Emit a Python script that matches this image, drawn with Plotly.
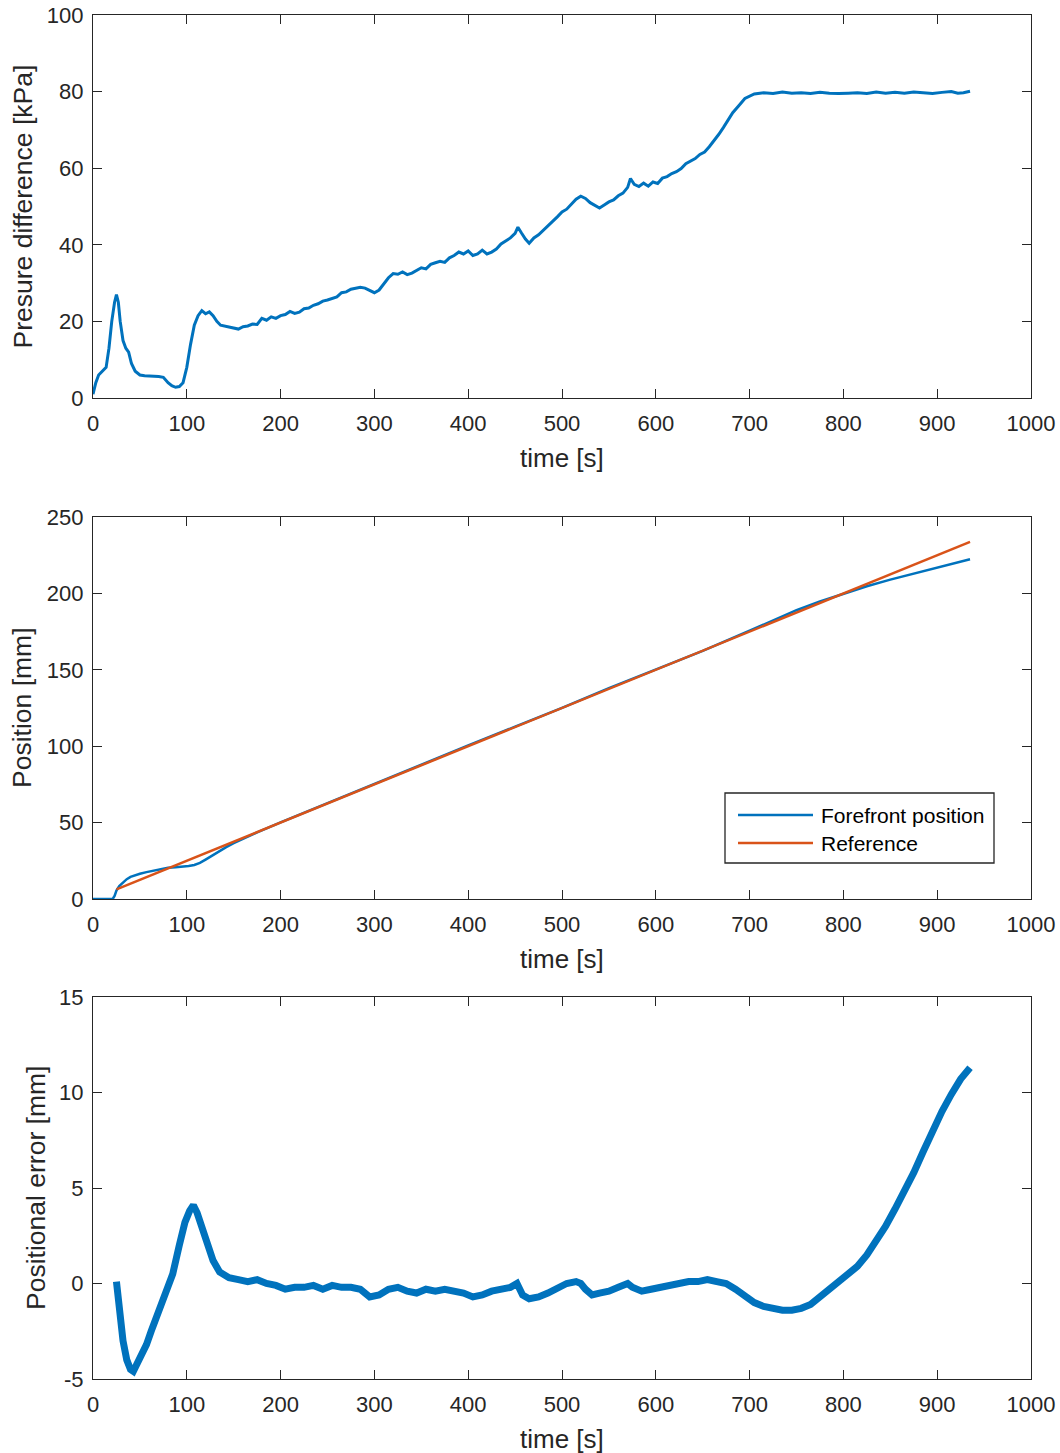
import plotly.graph_objects as go
from plotly.subplots import make_subplots

# ---------------- data ----------------
p_time = [0, 3, 6, 10, 14, 17, 20, 23, 25, 27, 29, 32, 35, 38, 41, 45, 50, 55, 60, 65, 70, 75,
          80, 84, 88, 92, 96, 100, 104, 108, 112, 116, 120, 124, 128, 132, 136, 140, 145, 150,
          155, 160, 165, 170, 175, 180, 185, 190, 195, 200, 205, 210, 215, 220, 225, 230, 235,
          240, 245, 250, 255, 260, 265, 270, 275, 280, 285, 290, 295, 300, 305, 310, 315, 320,
          325, 330, 335, 340, 345, 350, 355, 360, 365, 370, 375, 380, 385, 390, 395, 400, 405,
          410, 415, 420, 425, 430, 435, 440, 445, 450, 453, 457, 461, 465, 470, 475, 480, 485,
          490, 495, 500, 505, 510, 515, 520, 525, 530, 535, 540, 545, 550, 555, 560, 565, 570,
          573, 577, 582, 587, 592, 597, 602, 607, 612, 617, 622, 627, 632, 637, 642, 647, 652,
          657, 662, 667, 672, 677, 682, 688, 695, 705, 715, 725, 735, 745, 755, 765, 775, 785,
          795, 805, 815, 825, 835, 845, 855, 865, 875, 885, 895, 905, 915, 922, 928, 935]
p_kpa = [1, 4, 6, 7, 8, 13, 20, 25, 27, 25, 20, 15, 13, 12, 9, 7, 6, 5.8, 5.8, 5.7, 5.6, 5.4,
         4, 3.2, 2.8, 3, 4, 8, 14, 19, 21.5, 22.8, 22, 22.5, 21.5, 20, 19, 18.8, 18.5, 18.2,
         18, 18.6, 18.8, 19.3, 19.2, 20.8, 20.3, 21.2, 20.8, 21.5, 21.8, 22.6, 22.1, 22.4,
         23.3, 23.5, 24.2, 24.6, 25.3, 25.6, 26.1, 26.4, 27.5, 27.7, 28.4, 28.6, 28.9, 28.7,
         28.2, 27.5, 28.2, 29.8, 31.4, 32.5, 32.3, 32.9, 32.2, 32.6, 33.4, 34.0, 33.7, 34.9,
         35.3, 35.7, 35.4, 36.6, 37.2, 38.1, 37.6, 38.4, 37.2, 37.6, 38.6, 37.6, 38.1, 38.9,
         40.2, 41.0, 41.8, 43.0, 44.6, 43.0, 41.5, 40.4, 41.8, 42.6, 43.7, 44.8, 46.1, 47.3,
         48.6, 49.3, 50.6, 51.9, 52.7, 52.1, 51.0, 50.3, 49.6, 50.4, 51.2, 51.7, 52.8, 53.5,
         55.0, 57.3, 55.8, 55.2, 56.1, 55.3, 56.4, 56.0, 57.4, 57.8, 58.6, 59.1, 59.9, 61.2,
         61.9, 62.5, 63.6, 64.2, 65.6, 67.1, 68.8, 70.6, 72.4, 74.5, 76.2, 78.2, 79.4, 79.7,
         79.5, 79.9, 79.6, 79.7, 79.5, 79.8, 79.6, 79.5, 79.6, 79.7, 79.5, 79.9, 79.6, 79.8,
         79.6, 79.9, 79.7, 79.5, 79.8, 80.0, 79.6, 79.7, 80.1, 79.4, 79.2]

pos_time = [0, 10, 21, 23, 25, 28, 32, 36, 40, 45, 50, 57, 64, 72, 80, 88, 95, 102, 108, 114,
            120, 127, 134, 142, 150, 175, 200, 250, 300, 350, 400, 450, 500, 550, 600, 650,
            700, 725, 750, 775, 800, 825, 850, 875, 900, 920, 935]
pos_mm = [0, 0, 0, 2, 5.5, 8.5, 11, 13, 14.5, 15.6, 16.5, 17.6, 18.6, 19.6, 20.4, 20.8,
          21.1, 21.6, 22.3, 23.6, 25.8, 28.5, 31.1, 33.9, 36.5, 43.6, 50.1, 62.7, 75.6,
          87.9, 100.5, 112.8, 125.1, 138.0, 150.2, 162.4, 175.6, 182.5, 189.0, 194.7, 199.7,
          204.7, 209.0, 213.0, 216.5, 219.8, 222.4]

ref_time = [25, 200, 400, 600, 800, 935]
ref_mm = [6.25, 50.0, 100.0, 150.0, 200.0, 233.75]

err_time = [25, 28, 32, 36, 40, 43, 47, 52, 57, 62, 70, 78, 85, 92, 98, 103, 107, 111, 116,
            122, 128, 135, 145, 155, 165, 175, 185, 195, 205, 215, 225, 235, 245, 255, 265,
            275, 285, 295, 305, 315, 325, 335, 345, 355, 365, 375, 385, 395, 405, 415, 425,
            435, 445, 452, 458, 465, 475, 485, 495, 505, 515, 520, 525, 532, 540, 550, 560,
            570, 575, 585, 595, 605, 615, 625, 635, 645, 655, 665, 675, 685, 695, 705, 715,
            725, 735, 745, 755, 765, 775, 785, 795, 805, 815, 825, 835, 845, 855, 865, 875,
            885, 895, 905, 915, 925, 935]
err_mm = [0.1, -1.5, -3.0, -4.0, -4.5, -4.6, -4.2, -3.8, -3.2, -2.5, -1.5, -0.5, 0.5, 2.0,
          3.2, 3.8, 4.1, 3.7, 3.0, 2.0, 1.2, 0.6, 0.3, 0.2, 0.1, 0.2, 0.0, -0.1, -0.3, -0.2,
          -0.2, -0.1, -0.3, -0.1, -0.2, -0.2, -0.3, -0.7, -0.6, -0.3, -0.2, -0.4, -0.5, -0.3,
          -0.4, -0.3, -0.4, -0.5, -0.7, -0.6, -0.4, -0.3, -0.2, 0.0, -0.6, -0.8, -0.7, -0.5,
          -0.2, 0.0, 0.1, 0.0, -0.3, -0.6, -0.5, -0.4, -0.2, 0.0, -0.2, -0.4, -0.3, -0.2, -0.1,
          0.0, 0.1, 0.1, 0.2, 0.1, 0.0, -0.3, -0.7, -1.0, -1.2, -1.3, -1.4, -1.4, -1.3, -1.1,
          -0.7, -0.3, 0.1, 0.5, 0.9, 1.5, 2.2, 3.0, 3.9, 4.8, 5.8, 6.9, 8.0, 9.0, 9.9, 10.7,
          11.3]

x_ticks = [0, 100, 200, 300, 400, 500, 600, 700, 800, 900, 1000]
y1_ticks = [0, 20, 40, 60, 80, 100]
y2_ticks = [0, 50, 100, 150, 200, 250]
y3_ticks = [-5, 0, 5, 10, 15]
y3_labels = ["-5", "0", "5", "10", "15"]
legend_names = ["Forefront position", "Reference"]

BLUE = "#0072BD"
ORANGE = "#D95319"
AX = "#262626"
FONT = "Liberation Sans, Arial, sans-serif"

W, H = 1060, 1453


def xp(px):
    return px / W


def yp(py):
    return 1 - py / H


fig = make_subplots(rows=3, cols=1)

fig.add_trace(go.Scatter(x=p_time, y=p_kpa, mode="lines", line=dict(color=BLUE, width=3),
                         showlegend=False), row=1, col=1)
fig.add_trace(go.Scatter(x=pos_time, y=pos_mm, mode="lines", name=legend_names[0],
                         line=dict(color=BLUE, width=2.5), showlegend=False), row=2, col=1)
fig.add_trace(go.Scatter(x=ref_time, y=ref_mm, mode="lines", name=legend_names[1],
                         line=dict(color=ORANGE, width=2.5), showlegend=False), row=2, col=1)
fig.add_trace(go.Scatter(x=err_time, y=err_mm, mode="lines", line=dict(color=BLUE, width=7),
                         showlegend=False), row=3, col=1)

xd = [xp(93), xp(1031)]
boxes = [(15, 398), (517, 899), (997, 1379)]
yranges = [[0, 100], [0, 250], [-5, 15]]
yticks = [(y1_ticks, [str(v) for v in y1_ticks]),
          (y2_ticks, [str(v) for v in y2_ticks]),
          (y3_ticks, y3_labels)]

common = dict(showline=True, linecolor=AX, linewidth=1.3, mirror="ticks", ticks="inside",
              ticklen=9, tickwidth=1.3, tickcolor=AX, showgrid=False, zeroline=False,
              automargin=False, tickfont=dict(family=FONT, size=22, color=AX))
for i, (top, bot) in enumerate(boxes):
    n = "" if i == 0 else str(i + 1)
    fig.layout["xaxis" + n].update(domain=xd, range=[0, 1000], tickvals=x_ticks,
                                   ticktext=[str(v) for v in x_ticks],
                                   ticklabelstandoff=5, **common)
    fig.layout["yaxis" + n].update(domain=[yp(bot), yp(top)], range=yranges[i],
                                   tickvals=yticks[i][0], ticktext=yticks[i][1],
                                   ticklabelstandoff=4, **common)

ann = []
ytitles = ["Presure difference [kPa]", "Position [mm]", "Positional error [mm]"]
ytitle_x = [22, 22, 36]
for i, (top, bot) in enumerate(boxes):
    ann.append(dict(text="time [s]", xref="paper", yref="paper", x=xp(562),
                    y=yp(bot + 60), xanchor="center", yanchor="middle",
                    showarrow=False, font=dict(family=FONT, size=26, color=AX)))
    ann.append(dict(text=ytitles[i], xref="paper", yref="paper", x=xp(ytitle_x[i]),
                    y=yp((top + bot) / 2), xanchor="center", yanchor="middle",
                    textangle=-90, showarrow=False,
                    font=dict(family=FONT, size=26.5, color=AX)))

# MATLAB-style legend box in the position panel
LX0, LX1, LY0, LY1 = 725, 994, 793, 863
rows_y = [815, 843]
row_colors = [BLUE, ORANGE]
shapes = [dict(type="rect", xref="paper", yref="paper", x0=xp(LX0), x1=xp(LX1),
               y0=yp(LY1), y1=yp(LY0), line=dict(color=AX, width=1.3),
               fillcolor="white", layer="above")]
for name, ry, col in zip(legend_names, rows_y, row_colors):
    shapes.append(dict(type="line", xref="paper", yref="paper", x0=xp(738), x1=xp(813),
                       y0=yp(ry), y1=yp(ry), line=dict(color=col, width=2.5)))
    ann.append(dict(text=name, xref="paper", yref="paper", x=xp(819), y=yp(ry),
                    xanchor="left", yanchor="middle", showarrow=False,
                    font=dict(family=FONT, size=21, color="#000000")))

fig.update_layout(
    template="none",
    width=W, height=H, margin=dict(l=0, r=0, t=0, b=0),
    paper_bgcolor="white", plot_bgcolor="rgba(0,0,0,0)",
    annotations=ann, shapes=shapes, showlegend=False,
)

fig.write_html("out.html", config={"displayModeBar": False},
               post_script="document.body.style.margin='0';document.body.style.padding='0';")
